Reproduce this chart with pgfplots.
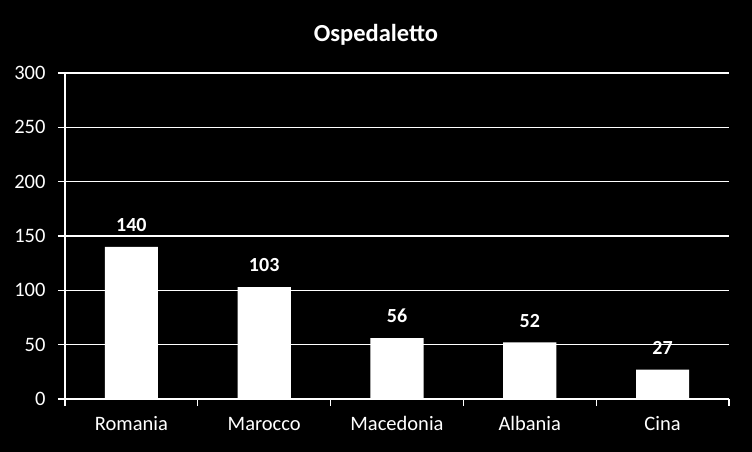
\documentclass[border=0pt]{standalone}
\usepackage{pgfplots}
\pgfplotsset{compat=1.18}
\usepackage{fontspec}
\setmainfont{Carlito}
\begin{document}
\begin{tikzpicture}[x=1pt,y=1pt]
\fill[black] (0,0) rectangle (752,452);
\useasboundingbox (0,0) rectangle (752,452);
\node[white,font=\fontsize{24.5}{28}\selectfont\bfseries] at (376,417) {Ospedaletto};
\begin{axis}[
  at={(65pt,53pt)}, anchor=south west,
  scale only axis, width=664pt, height=326pt,
  xmin=-0.5, xmax=4.5, ymin=0, ymax=300,
  enlargelimits=false,
  axis x line*=bottom, axis y line*=left,
  axis line style={white, line width=1.2pt},
  ybar, bar width=0.4,
  xtick={0,1,2,3,4},
  xticklabels={Romania,Marocco,Macedonia,Albania,Cina},
  minor xtick={-0.5,0.5,1.5,2.5,3.5,4.5},
  major x tick style={draw=none},
  minor x tick style={white, line width=1.2pt},
  minor tick length=7pt,
  ytick={0,50,...,300},
  major y tick style={white, line width=1.2pt},
  major tick length=7pt,
  tick align=outside,
  ymajorgrids,
  grid style={white, line width=1.2pt},
  ticklabel style={white, font=\fontsize{20.5}{24}\selectfont},
  /pgf/number format/assume math mode=true,
  xticklabel style={text height=15pt, text depth=0pt, yshift=-6pt},
  yticklabel style={xshift=-9pt},
  nodes near coords,
  every node near coord/.append style={white, font=\fontsize{20}{24}\selectfont\bfseries, inner sep=0pt, anchor=south, yshift=15pt},
]
\addplot[fill=white, draw=none] coordinates {(0,140) (1,103) (2,56) (3,52) (4,27)};
\end{axis}
\end{tikzpicture}
\end{document}
